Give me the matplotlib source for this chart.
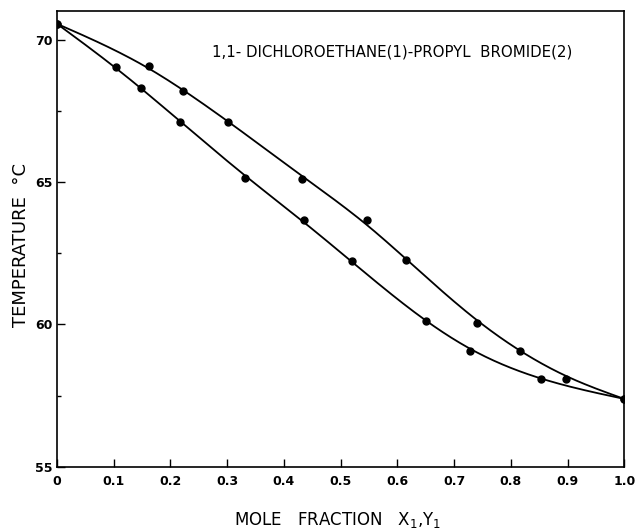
import numpy as np
import matplotlib
matplotlib.use("Agg")
import matplotlib.pyplot as plt
from matplotlib.ticker import MultipleLocator

# Liquid phase (x1) - lower curve
x_liq = [0.0, 0.104, 0.148, 0.217, 0.332, 0.436, 0.520, 0.651, 0.728, 0.854, 1.0]
t_liq = [70.55, 69.05, 68.31, 67.11, 65.14, 63.66, 62.22, 60.11, 59.08, 58.10, 57.39]

# Vapour phase (y1) - upper curve
y_vap = [0.0, 0.162, 0.222, 0.302, 0.432, 0.547, 0.615, 0.741, 0.817, 0.898, 1.0]
t_vap = [70.55, 69.08, 68.20, 67.11, 65.11, 63.66, 62.27, 60.07, 59.08, 58.10, 57.39]

xticks = [0, 0.1, 0.2, 0.3, 0.4, 0.5, 0.6, 0.7, 0.8, 0.9, 1.0]
xticklabels = ["0", "0.1", "0.2", "0.3", "0.4", "0.5", "0.6", "0.7", "0.8", "0.9", "1.0"]
yticks = [55, 60, 65, 70]


def smooth_line(x, y, lam=1e-6):
    # penalised (Whittaker-type) smoothing of the points onto a fine grid
    x = np.asarray(x, float)
    y = np.asarray(y, float)
    g = np.linspace(0, 1, 201)
    B = np.zeros((len(x), len(g)))
    for k, xv in enumerate(x):
        j = min(int(xv / (g[1] - g[0])), len(g) - 2)
        t = (xv - g[j]) / (g[1] - g[0])
        B[k, j] = 1 - t
        B[k, j + 1] += t
    w = np.ones(len(x))
    w[0] = w[-1] = 50.0  # end points are pure components
    W = np.diag(w)
    D = np.diff(np.eye(len(g)), 2, axis=0) / (g[1] - g[0]) ** 2
    M = B.T @ W @ B + lam * D.T @ D
    gy = np.linalg.solve(M, B.T @ W @ y)
    return g, gy


fig = plt.figure(figsize=(6.37, 5.32), dpi=100)
ax = fig.add_axes([0.0895, 0.1222, 0.8905, 0.8571])

xa, ya = smooth_line(x_liq, t_liq)
xb, yb = smooth_line(y_vap, t_vap)
ax.plot(xa, ya, color="black", lw=1.3)
ax.plot(xb, yb, color="black", lw=1.3)

ax.plot(x_liq, t_liq, "o", color="black", ms=5)
ax.plot(y_vap, t_vap, "o", color="black", ms=5)

ax.set_xlim(0, 1.0)
ax.set_ylim(55, 71)
ax.set_xticks(xticks)
ax.set_xticklabels(xticklabels, fontsize=9, fontweight="bold")
ax.set_yticks(yticks)
ax.set_yticklabels([str(v) for v in yticks], fontsize=9, fontweight="bold")
ax.yaxis.set_minor_locator(MultipleLocator(2.5))
ax.tick_params(axis="both", which="major", direction="in", length=6, width=1)
ax.tick_params(axis="both", which="minor", direction="in", length=3, width=1)
ax.tick_params(axis="x", pad=6)

for s in ax.spines.values():
    s.set_linewidth(1.2)

ax.text(0.273, 69.55, "1,1- DICHLOROETHANE(1)-PROPYL  BROMIDE(2)", fontsize=10.8,
        va="center")

fig.text(338 / 637, 1 - 520 / 532, r"MOLE   FRACTION   X$_1$,Y$_1$", fontsize=12,
         ha="center", va="center")
fig.text(21 / 637, 1 - 245 / 532, "TEMPERATURE  °C", fontsize=13, rotation=90,
         ha="center", va="center")

fig.savefig("out.png", dpi=100)
